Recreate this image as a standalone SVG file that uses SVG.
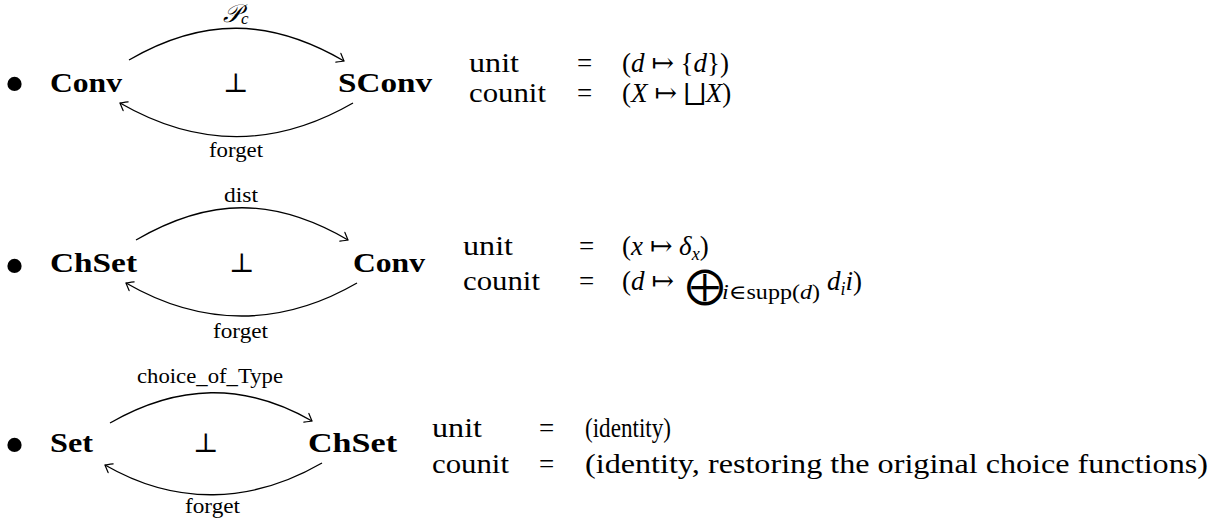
<svg xmlns="http://www.w3.org/2000/svg" width="1213" height="523" viewBox="0 0 1213 523">
<style>
text{font-family:"Liberation Serif","DejaVu Serif","DejaVu Sans",serif;fill:#000}
.m{font-size:27px}
.b{font-size:27px;font-weight:bold}
.l{font-size:21px}
.i{font-style:italic}
.s{font-size:19px}
.bul{font-size:60px}
.arc{fill:none;stroke:#000;stroke-width:1.3}
</style>
<defs>
<marker id="to" markerUnits="userSpaceOnUse" markerWidth="14" markerHeight="14" viewBox="-10 -7 14 14" refX="0" refY="0" orient="auto">
<path d="M -6.5 -5 Q -1.5 -1.2 0 0 Q -1.5 1.2 -6.5 5" fill="none" stroke="#000" stroke-width="1.2" stroke-linecap="round"/>
</marker>
</defs>
<rect width="1213" height="523" fill="#fff"/>

<g id="connectors">
<path class="arc" marker-end="url(#to)" d="M129,60 C203,17 270,18 344,61"/>
<path class="arc" marker-end="url(#to)" d="M353,103 C275,148 198,148 120,103"/>
<path class="arc" marker-end="url(#to)" d="M136,240 C210,197 274,197 348,240"/>
<path class="arc" marker-end="url(#to)" d="M357,283 C281,327 202,327 126,283"/>
<path class="arc" marker-end="url(#to)" d="M110,423 C178,384 244,382 312,421"/>
<path class="arc" marker-end="url(#to)" d="M322,463 C251,504 176,506 105,465"/>
</g>

<g id="row1">
<text class="bul" x="4" y="104">•</text>
<g id="conv1"><text class="b" x="50" y="92" textLength="72" lengthAdjust="spacingAndGlyphs">Conv</text></g>
<g id="sconv1"><text class="b" x="338" y="92" textLength="94" lengthAdjust="spacingAndGlyphs">SConv</text></g>
<text class="m" x="223" y="92">⊥</text>
<text x="223" y="22" font-size="25px"><tspan class="i">𝒫</tspan><tspan class="i" dy="2" font-size="17px">c</tspan></text>
<text class="l" x="209" y="157" textLength="54" lengthAdjust="spacingAndGlyphs">forget</text>
<text class="m" x="469" y="72" textLength="50" lengthAdjust="spacingAndGlyphs">unit</text>
<text class="m" x="577" y="72">=</text>
<text class="m" x="622" y="72">(<tspan class="i">d</tspan> ↦ {<tspan class="i">d</tspan>})</text>
<text class="m" x="469" y="102" textLength="77" lengthAdjust="spacingAndGlyphs">counit</text>
<text class="m" x="577" y="102">=</text>
<text class="m" x="622" y="102">(<tspan class="i">X</tspan> ↦ ⨆<tspan class="i">X</tspan>)</text>
</g>

<g id="row2">
<text class="bul" x="4" y="286">•</text>
<g id="chset2"><text class="b" x="50" y="272" textLength="87" lengthAdjust="spacingAndGlyphs">ChSet</text></g>
<g id="conv2"><text class="b" x="353" y="272" textLength="72" lengthAdjust="spacingAndGlyphs">Conv</text></g>
<text class="m" x="229" y="272">⊥</text>
<text class="l" x="224" y="202" textLength="34" lengthAdjust="spacingAndGlyphs">dist</text>
<text class="l" x="213" y="338" textLength="55" lengthAdjust="spacingAndGlyphs">forget</text>
<text class="m" x="463" y="255" textLength="50" lengthAdjust="spacingAndGlyphs">unit</text>
<text class="m" x="579" y="255">=</text>
<text class="m" x="622" y="255">(<tspan class="i">x</tspan> ↦ <tspan class="i">δ</tspan><tspan class="i" font-size="18px" dy="5">x</tspan><tspan dy="-5">)</tspan></text>
<text class="m" x="463" y="290" textLength="77" lengthAdjust="spacingAndGlyphs">counit</text>
<text class="m" x="579" y="290">=</text>
<text class="m" x="622" y="290">(<tspan class="i">d</tspan> ↦</text>
<text x="686" y="298" font-size="38px">⨁</text>
<text x="722" y="299" font-size="20px" textLength="98" lengthAdjust="spacingAndGlyphs"><tspan class="i">i</tspan>∈supp(<tspan class="i">d</tspan>)</text>
<text class="m" x="827" y="290"><tspan class="i">d</tspan><tspan class="i" font-size="18px" dy="5">i</tspan><tspan class="i" dy="-5">i</tspan>)</text>
</g>

<g id="row3">
<text class="bul" x="4" y="465">•</text>
<g id="set3"><text class="b" x="50" y="452" textLength="43" lengthAdjust="spacingAndGlyphs">Set</text></g>
<g id="chset3"><text class="b" x="308" y="452" textLength="89" lengthAdjust="spacingAndGlyphs">ChSet</text></g>
<text class="m" x="193" y="452">⊥</text>
<text class="l" x="137" y="383" textLength="146" lengthAdjust="spacingAndGlyphs">choice_of_Type</text>
<text class="l" x="185" y="513" textLength="55" lengthAdjust="spacingAndGlyphs">forget</text>
<text class="m" x="432" y="437" textLength="50" lengthAdjust="spacingAndGlyphs">unit</text>
<text class="m" x="539" y="437">=</text>
<text class="m" x="585" y="437" textLength="86" lengthAdjust="spacingAndGlyphs">(identity)</text>
<text class="m" x="432" y="473" textLength="77" lengthAdjust="spacingAndGlyphs">counit</text>
<text class="m" x="539" y="473">=</text>
<text class="m" x="585" y="473" textLength="623" lengthAdjust="spacingAndGlyphs">(identity, restoring the original choice functions)</text>
</g>
</svg>
